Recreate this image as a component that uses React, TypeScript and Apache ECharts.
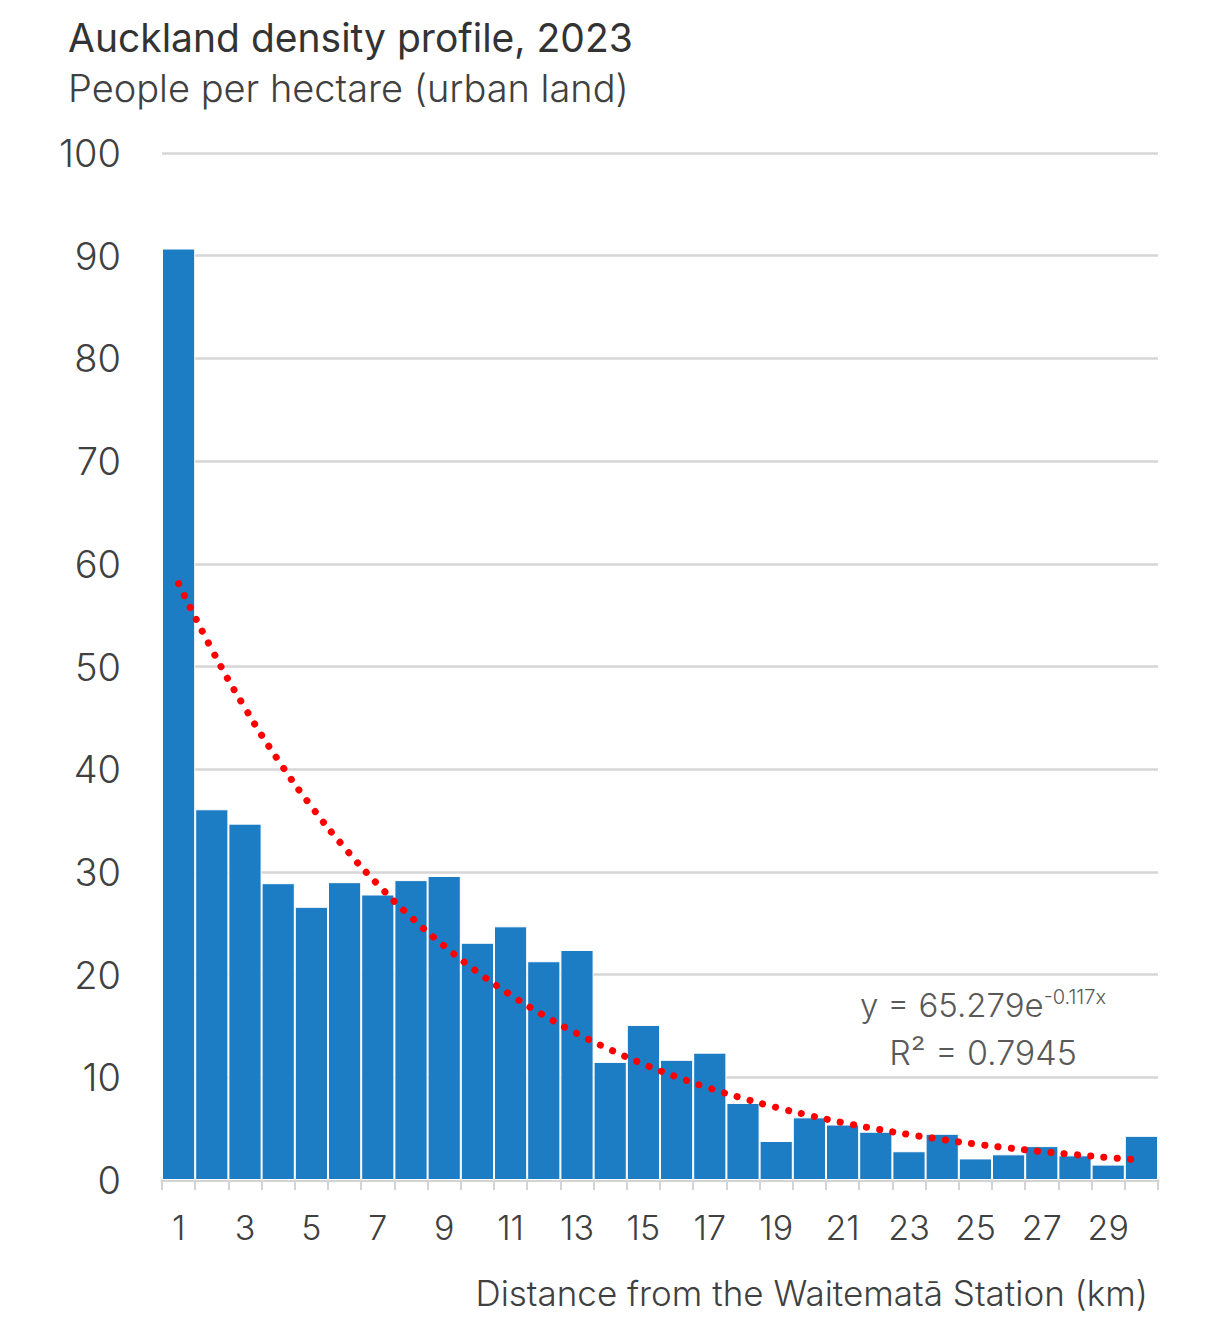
import React, { useEffect, useRef } from "react";
import * as echarts from "echarts";

const distances = Array.from({ length: 30 }, (_, i) => String(i + 1));
const density = [
  90.7, 36.1, 34.7, 28.9, 26.6, 29.0, 27.8, 29.2, 29.6, 23.1,
  24.7, 21.3, 22.4, 11.5, 15.1, 11.7, 12.4, 7.5, 3.8, 6.1,
  5.4, 4.7, 2.8, 4.5, 2.1, 2.5, 3.3, 2.4, 1.5, 4.3,
];
const trend = [
  58.07, 51.66, 45.96, 40.88, 36.37, 32.35, 28.78, 25.6, 22.78, 20.26,
  18.02, 16.03, 14.26, 12.69, 11.29, 10.04, 8.93, 7.95, 7.07, 6.29,
  5.59, 4.98, 4.43, 3.94, 3.5, 3.12, 2.77, 2.47, 2.19, 1.95,
];
const yTicks = { min: 0, max: 100, interval: 10 };

const FONT = "Inter, 'Noto Sans', sans-serif";

export default function App() {
  const ref = useRef<HTMLDivElement>(null);
  useEffect(() => {
    document.body.style.margin = "0";
    const chart = echarts.init(ref.current!, null, { renderer: "svg" });
    chart.setOption({
      animation: false,
      backgroundColor: "#ffffff",
      textStyle: { fontFamily: FONT, fontWeight: 300 },
      grid: { left: 162, right: 55, top: 153, bottom: 161, containLabel: false },
      graphic: [
        {
          type: "text",
          left: 68,
          top: 18,
          style: { text: "Auckland density profile, 2023", font: `400 39px ${FONT}`, fill: "#333333" },
        },
        {
          type: "text",
          left: 68,
          top: 69,
          style: { text: "People per hectare (urban land)", font: `300 38px ${FONT}`, fill: "#404040" },
        },
        {
          type: "text",
          right: 65,
          top: 1275,
          style: { text: "Distance from the Waitematā Station (km)", font: `300 35px ${FONT}`, fill: "#404040" },
        },
        {
          type: "text",
          x: 983,
          y: 1005,
          style: {
            text: "{b|y = 65.279e}{s|-0.117x}",
            textAlign: "center",
            textVerticalAlign: "middle",
            rich: {
              b: { fontSize: 33, fontFamily: FONT, fontWeight: 300, fill: "#595959" },
              s: { fontSize: 20, fontFamily: FONT, fontWeight: 300, fill: "#595959", verticalAlign: "top", padding: [0, 0, 16, 0] },
            },
          },
        },
        {
          type: "text",
          x: 983,
          y: 1052,
          style: {
            text: "R² = 0.7945",
            textAlign: "center",
            textVerticalAlign: "middle",
            font: `300 34px ${FONT}`,
            fill: "#595959",
          },
        },
      ],
      xAxis: {
        type: "category",
        data: distances,
        boundaryGap: true,
        axisLine: { show: true, lineStyle: { color: "#d4d4d4", width: 3 } },
        axisTick: { show: true, interval: 0, alignWithLabel: false, length: 10, lineStyle: { color: "#d4d4d4", width: 2 } },
        axisLabel: { interval: 1, fontSize: 34, fontWeight: 300, color: "#404040", margin: 30, fontFamily: FONT },
      },
      yAxis: {
        type: "value",
        min: yTicks.min,
        max: yTicks.max,
        interval: yTicks.interval,
        axisLine: { show: false },
        axisTick: { show: false },
        splitLine: { lineStyle: { color: "#d6d6d6", width: 2.5 } },
        axisLabel: { fontSize: 38, fontWeight: 300, color: "#404040", margin: 41, fontFamily: FONT },
      },
      series: [
        {
          type: "bar",
          data: density,
          barCategoryGap: "0%",
          itemStyle: { color: "#1c7cc4", borderColor: "#ffffff", borderWidth: 1 },
          z: 2,
        },
        {
          type: "line",
          data: trend,
          symbol: "none",
          smooth: true,
          lineStyle: { color: "#ff0000", width: 7, type: [0.1, 13.2], cap: "round" },
          z: 3,
        },
      ],
    });
    return () => chart.dispose();
  }, []);
  return <div ref={ref} style={{ width: 1213, height: 1341 }} />;
}
